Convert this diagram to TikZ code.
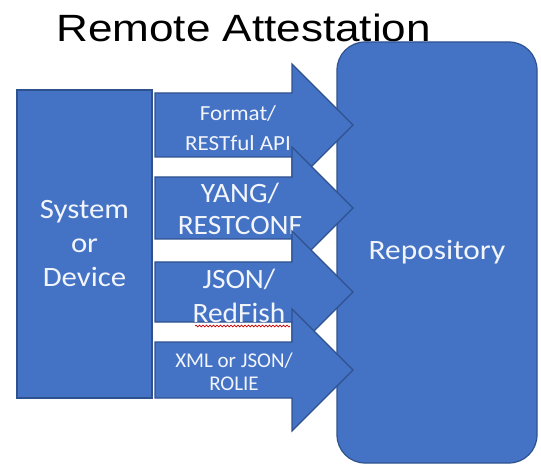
\documentclass[tikz,border=0pt]{standalone}
\usepackage{fontspec}
\setmainfont{Carlito}
\newfontfamily\titlefont{Liberation Sans}
\usetikzlibrary{decorations.pathmorphing}
\definecolor{boxfill}{HTML}{4472C4}
\definecolor{boxline}{HTML}{2F528F}
\definecolor{txt}{HTML}{F2F5FB}
\begin{document}
\begin{tikzpicture}[x=1pt,y=-1pt,
  block/.style={fill=boxfill,draw=boxline,line width=1.2pt},
  blockarrow/.style={fill=boxfill,draw=boxline,line width=1.2pt,line join=miter},
  lbl/.style={text=txt,align=center,inner sep=0pt},
  bigtxt/.style={font=\fontsize{28}{34}\selectfont},
  midtxt/.style={font=\fontsize{21.5}{30}\selectfont},
]
\useasboundingbox (0,0) rectangle (541,465);
% title
\node[anchor=base west,inner sep=0pt,font=\titlefont\fontsize{38}{40}\selectfont] (title) at (56,42) {\scalebox{1.16}[1]{Remote Attestation}};
% system box
\node[block,minimum width=135pt,minimum height=308pt,text=txt,align=center,bigtxt] (sys) at (84.5,244) {\scalebox{1.1}[1]{System}\\\scalebox{1.1}[1]{or}\\\scalebox{1.1}[1]{Device}};
% repository
\node[block,rounded corners=28pt,minimum width=200pt,minimum height=421pt,text=txt,bigtxt] (repo) at (437,252.5) {\scalebox{1.12}[1]{Repository}};
% arrow 1
\draw[blockarrow] (155,93) -- (292,93) -- (292,64) -- (353,125) -- (292,186) -- (292,157) -- (155,157) -- cycle;
\node[lbl,midtxt] (a1) at (238,128) {\scalebox{1.07}[1]{Format/}\\\scalebox{1.07}[1]{RESTful API}};
% arrow 2
\draw[blockarrow] (155,177) -- (292,177) -- (292,147) -- (353,208) -- (292,269) -- (292,239) -- (155,239) -- cycle;
\node[lbl,bigtxt,font=\fontsize{28}{32}\selectfont] (a2) at (240,209) {\scalebox{1.05}[1]{YANG/}\\\scalebox{1.05}[1]{RESTCONF}};
% arrow 3
\draw[blockarrow] (155,262) -- (292,262) -- (292,231) -- (353,292) -- (292,353) -- (292,322) -- (155,322) -- cycle;
\node[lbl,bigtxt] (a3) at (239,296) {\scalebox{1.05}[1]{JSON/}\\\scalebox{1.05}[1]{RedFish}};
\draw[red!80!black,line width=0.7pt,decorate,decoration={snake,amplitude=0.9pt,segment length=3.5pt}] (195,326) -- (290,326);
% arrow 4
\draw[blockarrow] (155,342) -- (292,342) -- (292,309) -- (353,370) -- (292,431) -- (292,398) -- (155,398) -- cycle;
\node[lbl,font=\fontsize{21}{23}\selectfont] (a4) at (234,372) {XML or JSON/\\ROLIE};
\end{tikzpicture}
\end{document}
